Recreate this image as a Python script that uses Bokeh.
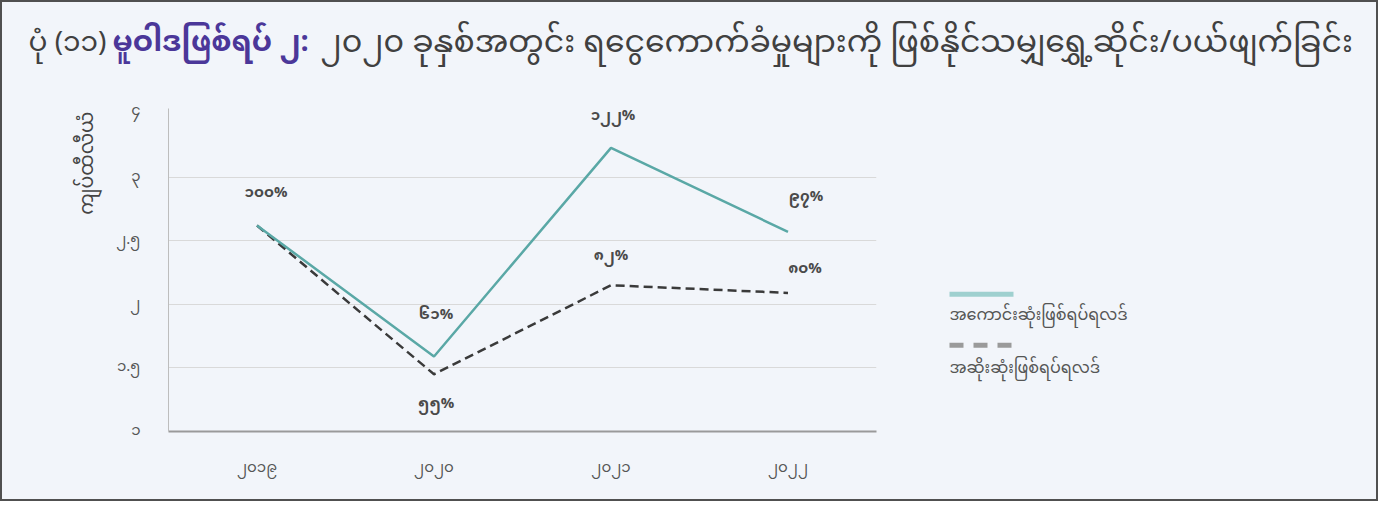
import math
from bokeh.plotting import figure
from bokeh.layouts import column, row
from bokeh.models import ColumnDataSource, FixedTicker, Label
from bokeh.core.properties import value
from bokeh.embed import file_html
from bokeh.resources import INLINE

# ---- data ----
years = ["၂၀၁၉", "၂၀၂၀", "၂၀၂၁", "၂၀၂၂"]
best = [2.62, 1.59, 3.23, 2.57]
worst = [2.62, 1.45, 2.15, 2.09]
best_pct = [100, 61, 122, 97]
worst_pct = [55, 82, 80]          # labels for 2020-2022
y_ticks = [1, 1.5, 2, 2.5, 3, 3.54]
y_tick_labels = ["၁", "၁.၅", "၂", "၂.၅", "၃", "၄"]
series_names = ["အကောင်းဆုံးဖြစ်ရပ်ရလဒ်", "အဆိုးဆုံးဖြစ်ရပ်ရလဒ်"]
y_axis_title = "ကျပ်ထီလီယံ"
title_parts = ["ပုံ (၁၁)", "မူဝါဒဖြစ်ရပ် ၂:",
               "၂၀၂၀ ခုနှစ်အတွင်း ရငွေကောက်ခံမှုများကို ဖြစ်နိုင်သမျှရွှေ့ဆိုင်း/ပယ်ဖျက်ခြင်း"]

MY = str.maketrans("0123456789", "၀၁၂၃၄၅၆၇၈၉")
def my(n):
    return str(n).translate(MY) + "%"

FONT = "Noto Sans Myanmar"
BG = "#f2f5fa"
TEAL = "#5aa8a6"
DARK = "#3a3a3a"
TXT = "#4a4a4a"

W, TITLE_H, BODY_H, MAIN_W = 1374, 92, 405, 880


def blank(width, height):
    f = figure(width=width, height=height, x_range=(0, width), y_range=(height, 0),
               x_axis_type=None, y_axis_type=None, output_backend="svg", title=None,
               toolbar_location=None, tools="", min_border=0)
    f.background_fill_color = BG
    f.border_fill_color = BG
    f.outline_line_color = None
    f.grid.grid_line_color = None
    return f


# ---- title ----
tf = blank(W, TITLE_H)
title_x = [26, 110, 318]
title_col = ["#404040", "#4b3799", "#404040"]
title_style = ["normal", "bold", "normal"]
title_size = ["28px", "29px", "31.5px"]
for txt, xx, col, st, fs in zip(title_parts, title_x, title_col, title_style, title_size):
    tf.text(x=[xx], y=[42], text=[txt], text_font=value(FONT), text_font_size=fs,
            text_color=col, text_font_style=st, text_align="left", text_baseline="middle")

# ---- main chart ----
p = figure(x_range=years, y_range=(1, 3.54), frame_width=708, frame_height=323, title=None,
           min_border_left=166, min_border_right=6, min_border_top=14, min_border_bottom=68,
           output_backend="svg", toolbar_location=None, tools="")
p.background_fill_color = BG
p.border_fill_color = BG
p.outline_line_color = None

p.xgrid.grid_line_color = None
p.ygrid.grid_line_color = "#d9d9d9"
p.ygrid.grid_line_width = 1

p.yaxis.ticker = FixedTicker(ticks=y_ticks)
p.yaxis.major_label_overrides = {t: l for t, l in zip(y_ticks, y_tick_labels)}
p.yaxis.axis_line_color = "#bdbdbd"
p.yaxis.major_tick_line_color = None
p.yaxis.minor_tick_line_color = None
p.yaxis.major_label_standoff = 22
p.yaxis.major_label_text_font = FONT
p.yaxis.major_label_text_font_size = "15px"
p.yaxis.major_label_text_color = "#555555"

p.xaxis.axis_line_color = "#9a9a9a"
p.xaxis.axis_line_width = 2
p.xaxis.major_tick_line_color = None
p.xaxis.minor_tick_line_color = None
p.xaxis.major_label_standoff = 14
p.xaxis.major_label_text_font = FONT
p.xaxis.major_label_text_font_size = "15px"
p.xaxis.major_label_text_color = "#555555"

p.line(x=years, y=worst, line_color=DARK, line_width=2.5, line_dash="9 5")
p.line(x=years, y=best, line_color=TEAL, line_width=2.5)

best_dx = [9, 2, 2, 18]
best_dy = [32, 41, 31, 34]
src_b = ColumnDataSource(dict(x=years, y=best, t=[my(v) for v in best_pct],
                              xo=best_dx, yo=[-d for d in best_dy]))
p.text(x="x", y="y", text="t", x_offset="xo", y_offset="yo", source=src_b,
       text_font=value(FONT), text_font_size="15px", text_font_style="bold",
       text_color=TXT, text_align="center", text_baseline="middle")

worst_dx = [2, 0, 17]
worst_dy = [-30, 29, 23]
src_w = ColumnDataSource(dict(x=years[1:], y=worst[1:], t=[my(v) for v in worst_pct],
                              xo=worst_dx, yo=[-d for d in worst_dy]))
p.text(x="x", y="y", text="t", x_offset="xo", y_offset="yo", source=src_w,
       text_font=value(FONT), text_font_size="15px", text_font_style="bold",
       text_color=TXT, text_align="center", text_baseline="middle")

p.add_layout(Label(x=16, y=320, x_units="screen", y_units="screen", text=y_axis_title,
                   angle=math.pi / 2, text_font=FONT, text_font_size="19px",
                   text_color="#444444", text_align="right", text_baseline="middle"), "left")

# ---- legend panel ----
lf = blank(W - MAIN_W, BODY_H)
lf.line(x=[67, 131], y=[233, 233], line_color="#9fd0cf", line_width=5)
lf.line(x=[67, 131], y=[297, 297], line_color="#9a9a9a", line_width=5, line_dash="14 10")
lf.text(x=[67, 67], y=[261, 327], text=series_names, text_font=value(FONT),
        text_font_size="16px", text_color="#555555", text_align="left", text_baseline="middle")

layout = column(tf, row(p, lf), styles={"border": "2px solid #505050", "background": BG})

open("out.html", "w").write(file_html(layout, INLINE))
